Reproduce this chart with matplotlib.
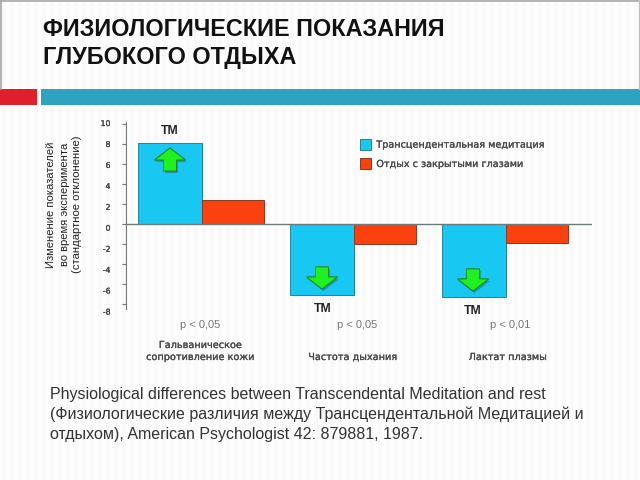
import matplotlib
matplotlib.use('Agg')
import matplotlib.pyplot as plt
import matplotlib.patheffects as pe
from matplotlib.patches import Polygon, Rectangle
from matplotlib.transforms import ScaledTranslation
import numpy as np

W, H = 640, 480

title_lines = ['ФИЗИОЛОГИЧЕСКИЕ ПОКАЗАНИЯ', 'ГЛУБОКОГО ОТДЫХА']
ylabel_lines = ['Изменение показателей', 'во время эксперимента', '(стандартное отклонение)']
series_names = ['Трансцендентальная медитация', 'Отдых с закрытыми глазами']
tm_values = [8.1, -7.05, -7.3]
rest_values = [2.4, -1.95, -1.85]
y_ticks = [10, 8, 6, 4, 2, 0, -2, -4, -6, -8]
p_labels = ['p < 0,05', 'p < 0,05', 'p < 0,01']
categories = ['Гальваническое\nсопротивление кожи', 'Частота дыхания', 'Лактат плазмы']
source = ('Physiological differences between Transcendental Meditation and rest\n'
          '(Физиологические различия между Трансцендентальной Медитацией и\n'
          'отдыхом), American Psychologist 42: 879881, 1987.')

BLUE = '#19c8f2'
RED = '#fb410e'
GREEN = '#1ff01f'
TEXT = '#4a4a4a'
# the small labels in the reference look slightly heavier than regular
HEAVY = [pe.withStroke(linewidth=0.2, foreground=TEXT)]


def axes_px(fig, left, top, right, bottom):
  return fig.add_axes([left / W, 1 - bottom / H, (right - left) / W, (bottom - top) / H])


def arrow(pg, x, tip, tail, up):
  # block arrow in page pixels
  s = 1 if up else -1
  base = tip + s * 12
  pts = [(x, tip), (x + 15.5, base), (x + 6.5, base), (x + 6.5, tail),
         (x - 6.5, tail), (x - 6.5, base), (x - 15.5, base)]
  p = Polygon(pts, closed=True, fc=GREEN, ec='#1d8a2a', lw=0.7, zorder=6)
  p.set_path_effects([pe.withSimplePatchShadow(offset=(1, -1.5), alpha=0.35, shadow_rgbFace='#333333'),
                      pe.Normal()])
  pg.add_patch(p)


def main(path):
  fig = plt.figure(figsize=(W / 100, H / 100), dpi=100, facecolor='white')
  plt.rcParams['font.family'] = ['Liberation Sans', 'DejaVu Sans']

  # page layer, coordinates in pixels
  pg = fig.add_axes([0, 0, 1, 1], zorder=0)
  pg.set_xlim(0, W)
  pg.set_ylim(H, 0)
  pg.axis('off')
  pg.vlines(np.arange(4, W, 8), 0, H, color='#f9f9f9', lw=3, zorder=0)
  pg.plot([0, W], [0.5, 0.5], color='#a6a6a6', lw=1.2)
  pg.plot([1, 1], [0, 89], color='#a6a6a6', lw=1.2)
  pg.plot([638.5, 638.5], [0, 89], color='#c0c0c0', lw=1)
  pg.add_patch(Rectangle((0, 89), 37, 16, fc='#e01f2c', ec='none'))
  pg.add_patch(Rectangle((41, 89), 599, 16, fc='#2ea3bf', ec='none'))

  pg.text(43, 29.5, title_lines[0], fontsize=16.8, fontweight='bold', color='#111111', va='center')
  pg.text(43, 57.5, title_lines[1], fontsize=16.8, fontweight='bold', color='#111111', va='center')

  for x, line in zip([51.5, 64.5, 77], ylabel_lines):
    pg.text(x, 204.5, line, rotation=90, fontsize=8.1, color='#222222', ha='center', va='center')

  for x, y, lab in zip([200.5, 357, 510], [325, 325, 325], p_labels):
    pg.text(x, y, lab, fontsize=8, color='#777777', ha='center', va='center')
  for x, y, lab in zip([200.5, 353, 508], [351, 357, 357], categories):
    pg.text(x, y, lab, fontsize=7.0, family='DejaVu Sans', color=TEXT, ha='center', va='center',
            linespacing=1.25, path_effects=HEAVY)

  for y, lab in zip([395, 414.5, 434], source.split('\n')):
    pg.text(50, y, lab, fontsize=11.55, color='#333333', va='center')

  # chart layer
  ax = axes_px(fig, 126, 122, 592, 309)
  ax.patch.set_alpha(0)
  x = np.arange(len(categories))
  b1 = ax.bar(x, tm_values, -0.42, align='edge', color=BLUE, edgecolor='#2b7f95', lw=0.7, zorder=3)
  b2 = ax.bar(x, rest_values, 0.408, align='edge', color=RED, edgecolor='#8a3a22', lw=0.7, zorder=3)
  ax.set_xlim((126 - 201.5) / 152.2, (592 - 201.5) / 152.2)
  ax.set_ylim(-8.45, 10.15)
  ax.axhline(0, color='#6b7b7b', lw=1, zorder=4)
  for side in ['top', 'right', 'bottom']:
    ax.spines[side].set_visible(False)
  ax.spines['left'].set_color('#777777')
  ax.spines['left'].set_linewidth(0.8)
  ax.set_xticks([])
  ax.set_yticks(y_ticks)
  ax.set_yticklabels([str(v) for v in y_ticks], fontsize=5.6, family='DejaVu Sans', color='#444444',
                     path_effects=[pe.withStroke(linewidth=0.2, foreground='#444444')])
  ax.tick_params(axis='y', length=3.2, width=0.8, color='#777777', pad=8)
  # tick labels in the reference drift down from the tick marks
  for lab, off in zip(ax.get_yticklabels(), np.linspace(-1, 6.5, len(y_ticks))):
    lab.set_transform(lab.get_transform() + ScaledTranslation(0, -off / 100, fig.dpi_scale_trans))

  leg = ax.legend([b1[0], b2[0]], series_names, loc='upper left', bbox_to_anchor=(0.503, 0.91),
                  frameon=False, handlelength=1.05, handleheight=1.4, handletextpad=0.6, labelspacing=0.85,
                  borderpad=0, borderaxespad=0, prop={'family': 'DejaVu Sans', 'size': 6.95},
                  labelcolor=TEXT)
  for t in leg.get_texts():
    t.set_path_effects(HEAVY)

  # TM marks over the chart
  top = fig.add_axes([0, 0, 1, 1], zorder=5)
  top.set_xlim(0, W)
  top.set_ylim(H, 0)
  top.axis('off')
  arrow(top, 170, 148, 171, True)
  arrow(top, 322, 289, 267, False)
  arrow(top, 473, 291, 269, False)
  for tx, ty in [(170, 131), (323, 309), (473, 311)]:
    top.text(tx, ty, 'ТМ', fontsize=8.8, fontweight='bold', color='#222222', ha='center', va='center')

  fig.savefig(path, dpi=100)


if __name__ == '__main__':
  main('out.png')
